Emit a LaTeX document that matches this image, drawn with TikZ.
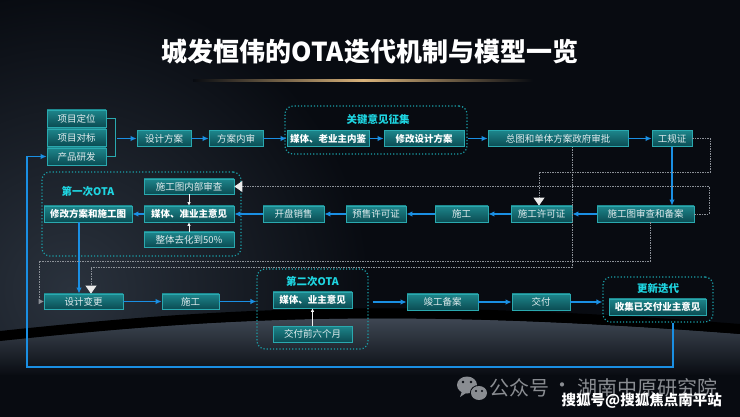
\documentclass[tikz,border=0pt]{standalone}
\usepackage{fontspec}
\setmainfont{Noto Sans CJK SC}
\usetikzlibrary{arrows.meta,calc}
\definecolor{bgc}{HTML}{080B11}
\definecolor{glowa}{HTML}{2A323D}
\definecolor{swoosh}{HTML}{4A5461}
\definecolor{boxtop}{HTML}{1D858B}
\definecolor{boxbot}{HTML}{0B4C53}
\definecolor{boxline}{HTML}{2AA9AF}
\definecolor{boxtxt}{HTML}{E2ECEE}
\definecolor{framec}{HTML}{1A9FA8}
\definecolor{cyanc}{HTML}{1ED6E2}
\definecolor{bluec}{HTML}{1A8FE3}
\definecolor{grayc}{HTML}{8C9198}
\definecolor{goldc}{HTML}{D8B27A}
\definecolor{wmgray}{HTML}{8A8D92}
\begin{document}
\begin{tikzpicture}[x=1pt,y=-1pt,
  bx/.style={draw=boxline, line width=0.8pt, top color=boxtop, bottom color=boxbot, text=boxtxt, font=\fontsize{9.5}{11}\selectfont, minimum height=16pt, inner sep=0pt},
  bb/.style={bx, font=\fontsize{9.5}{11}\selectfont\bfseries, text=white},
  frm/.style={draw=framec, dotted, line width=1.2pt, rounded corners=8pt, inner sep=0pt},
  ftitle/.style={text=cyanc, font=\fontsize{10.5}{12}\selectfont\bfseries},
  flow/.style={draw=bluec, line width=1.8pt, -{Latex[length=6pt,width=5.5pt]}},
  gline/.style={draw=grayc, line width=0.9pt, dash pattern=on 1.5pt off 1pt},
  bigtri/.style={-{Triangle[length=8pt,width=11pt,color=white!85!gray]}},
  smalltri/.style={-{Triangle[length=5pt,width=5pt,color=grayc]}},
  wflow/.style={draw=white!90!gray, line width=0.8pt, -{Latex[length=3.5pt,width=3.5pt]}}
]
\useasboundingbox (0,0) rectangle (740,417);
% background
\fill[bgc] (0,0) rectangle (740,417);
\begin{scope}
\clip (0,0) rectangle (740,417);
\shade[inner color=glowa, outer color=bgc] (70,290) circle (300);
\shade[top color=swoosh, bottom color=bgc] (0,341) .. controls (200,320) and (380,306) .. (740,334) -- (740,376) -- (0,376) -- cycle;
\fill[black] (0,331) .. controls (200,310) and (380,296) .. (740,324) -- (740,334) .. controls (380,306) and (200,320) .. (0,341) -- cycle;
\fill[bgc] (0,375) rectangle (740,417);
\end{scope}
% title
\node[text=white, font=\fontsize{26}{30}\selectfont\bfseries] (title) at (370,52) {城发恒伟的OTA迭代机制与模型一览};
\shade[left color=bgc, right color=goldc] (193,80) rectangle (363,82);
\shade[left color=goldc, right color=bgc] (363,80) rectangle (533,82);

% frames
\node[frm, minimum width=182pt, minimum height=48pt] (FK) at (376,130) {};
\node[frm, minimum width=199pt, minimum height=84pt] (F1) at (141.5,214) {};
\node[frm, minimum width=111pt, minimum height=80pt] (F2) at (312.5,309) {};
\node[frm, minimum width=110pt, minimum height=45pt] (F3) at (658,299.5) {};
\node[ftitle] (tK) at (378,120) {关键意见征集};
\node[ftitle] (t1) at (88,192) {第一次OTA};
\node[ftitle] (t2) at (312.5,282) {第二次OTA};
\node[ftitle] (t3) at (658,288) {更新迭代};

% row 1
\node[bx, minimum width=59pt, minimum height=17pt] (p1) at (76.5,118.5) {项目定位};
\node[bx, minimum width=59pt, minimum height=17pt] (p2) at (76.5,137.5) {项目对标};
\node[bx, minimum width=59pt, minimum height=17pt] (p3) at (76.5,156.5) {产品研发};
\node[bx, minimum width=54pt] (sj) at (164,138.5) {设计方案};
\node[bx, minimum width=54pt] (nsh) at (236,138.5) {方案内审};
\node[bb, minimum width=82pt] (mt1) at (328,138.5) {媒体、老业主内鉴};
\node[bb, minimum width=80pt] (xg) at (424,138.5) {修改设计方案};
\node[bx, minimum width=140pt] (zt) at (558,138.5) {总图和单体方案政府审批};
\node[bx, minimum width=40pt] (gg) at (672,138.5) {工规证};

% row 2
\node[bx, minimum width=97pt] (sct) at (645.5,214) {施工图审查和备案};
\node[bx, minimum width=61pt] (xk) at (541.5,214) {施工许可证};
\node[bx, minimum width=53pt] (sg1) at (461.5,214) {施工};
\node[bx, minimum width=60pt] (ys) at (376,214) {预售许可证};
\node[bx, minimum width=61pt] (kp) at (293.5,214) {开盘销售};
\node[bx, minimum width=90pt, minimum height=15pt] (ns) at (189,186.5) {施工图内部审查};
\node[bb, minimum width=90pt] (mz) at (189,214) {媒体、准业主意见};
\node[bx, minimum width=90pt, minimum height=15pt] (z50) at (189,239.5) {整体去化到50\%};
\node[bb, minimum width=88pt] (xf) at (88,214) {修改方案和施工图};

% row 3
\node[bx, minimum width=79pt, minimum height=15pt] (bg) at (83.5,301.5) {设计变更};
\node[bx, minimum width=57pt, minimum height=15pt] (sg2) at (190.5,301.5) {施工};
\node[bb, minimum width=79pt] (my) at (312.5,300) {媒体、业主意见};
\node[bx, minimum width=79pt] (jf6) at (312.5,334) {交付前六个月};
\node[bx, minimum width=71pt] (jg) at (442.5,302) {竣工备案};
\node[bx, minimum width=58pt] (jf) at (541,302) {交付};
\node[bb, minimum width=97pt] (sj2) at (657.5,307) {收集已交付业主意见};

% bracket
\coordinate (brs) at (117,138.5);
\draw[draw=boxline, line width=1pt] (p1.east) -| (115,156.5) -- (p3.east);
\draw[flow] (brs) -- (sj.west);
\draw[flow] (sj) -- (nsh);
\draw[flow] (nsh) -- (mt1);
\draw[flow] (mt1) -- (xg);
\draw[flow] (FK.east |- xg.east) -- (zt);
\draw[flow] (zt) -- (gg);
\draw[flow] (gg.south) -- (sct.north -| gg.south);
\draw[flow] (sct) -- (xk);
\draw[flow] (xk) -- (sg1);
\draw[flow] (sg1) -- (ys);
\draw[flow] (ys) -- (kp);
\draw[flow] (kp) -- (mz);
\draw[flow] (mz) -- (xf);
\draw[flow] (xf.south -| 79,0) -- (bg.north -| 79,0);
\draw[flow] (bg) -- (sg2);
\draw[flow] (sg2) -- (F2.west |- sg2.east);
\draw[flow] ($(F2.east |- jg.west)+(4,0)$) -- (jg.west);
\draw[flow] (jg) -- (jf);
\draw[flow] (jf) -- (F3.west |- jf.east);
\coordinate (lb1) at (673,367);
\coordinate (lb2) at (27,367);
\draw[flow] (F3.south -| 673,0) -- (lb1) -- (lb2) |- (p3.west);

% white arrows in frames
\draw[wflow] (ns.south) -- (mz.north);
\draw[wflow] (z50.north) -- (mz.south);
\draw[wflow, line width=1.3pt] (jf6.north) -- (my.south);

% gray dashed feedback
\coordinate (g1) at (710,172);
\draw[gline, bigtri] (gg.east) -| (g1) -| (xk.north -| 539,0);
\coordinate (g2) at (709,186.5);
\draw[gline, bigtri] (sct.east) -| (g2) -- (ns.east);
\coordinate (g3) at (572,267);
\coordinate (g4) at (91,267);
\draw[gline, bigtri] (zt.south -| 572,0) -- (g3) -- (g4) -- (bg.north -| 91,0);
\coordinate (g5) at (650,261);
\coordinate (g6) at (39,261);
\draw[gline, smalltri] (sct.south -| 650,0) -- (g5) -- (g6) |- (bg.west);

% watermark
\fill[wmgray] (467,385) ellipse (10 and 8.5);
\fill[wmgray] (462,391) -- (460,397) -- (466,393) -- cycle;
\draw[bgc, line width=1pt] (479,393) ellipse (8.6 and 7.6);
\fill[wmgray] (479,393) ellipse (8 and 7);
\fill[bgc] (463,382) circle (1.3) (471,382) circle (1.3) (476,391) circle (1.1) (482,391) circle (1.1);
\node[text=wmgray, font=\fontsize{20}{22}\selectfont, anchor=west, inner sep=0pt] (wm1) at (489,388) {公众号};
\node[text=wmgray, font=\fontsize{20}{22}\selectfont, inner sep=0pt] (wmd) at (562,388) {·};
\node[text=wmgray, font=\fontsize{20}{22}\selectfont, anchor=east, inner sep=0pt] (wm2) at (718,388) {湖南中原研究院};
\node[text=white, font=\fontsize{14.5}{16}\selectfont\bfseries, anchor=east, inner sep=0pt] (sh) at (722,401) {搜狐号@搜狐焦点南平站};
\end{tikzpicture}
\end{document}
